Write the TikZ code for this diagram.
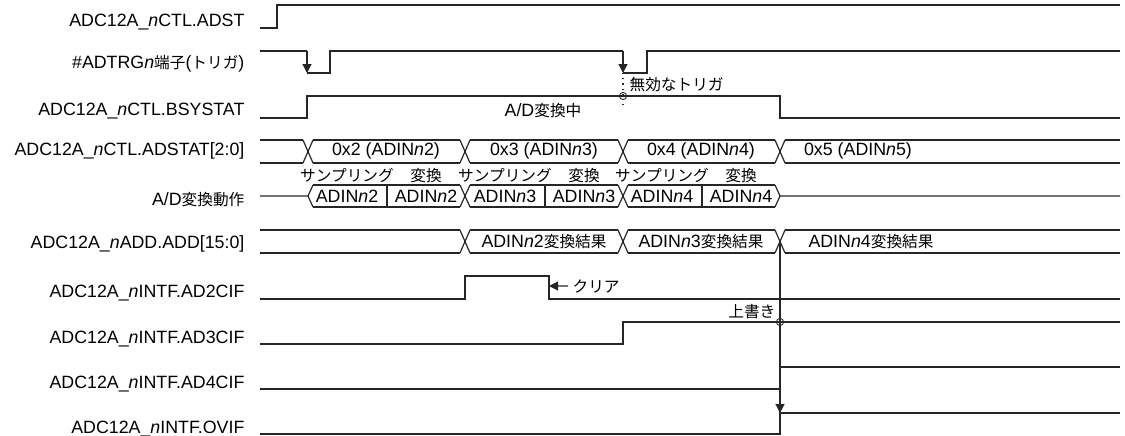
\documentclass[tikz,border=0pt]{standalone}
\usepackage{fontspec}
\setmainfont{Liberation Sans}
\newfontfamily\jp{Noto Sans CJK JP}[Scale=0.88]
\usetikzlibrary{arrows.meta}

\newcommand\nn{\textit{n}}

\begin{document}
\begin{tikzpicture}[line width=0.6pt, line join=miter, >={Triangle[length=4.5pt,width=4.5pt]}, x=0.5pt, y=-0.5pt,
  sig/.style={draw=black!85},
  lbl/.style={anchor=base east, inner sep=0pt, font=\fontsize{8.9}{10}\selectfont},
  val/.style={anchor=base, inner sep=0pt, font=\fontsize{8.9}{10}\selectfont}]
  \useasboundingbox (0,0) rectangle (1125,435);

  % signal names, one per row
  \node[lbl] (adst)   at (245,26)  {ADC12A\_\nn CTL.ADST};
  \node[lbl] (adtrg)  at (245,68)  {\#ADTRG\nn{\jp 端子}({\jp トリガ})};
  \node[lbl] (bsy)    at (245,115) {ADC12A\_\nn CTL.BSYSTAT};
  \node[lbl] (adstat) at (245,155) {ADC12A\_\nn CTL.ADSTAT[2:0]};
  \node[lbl] (adop)   at (245,205) {A/D{\jp 変換動作}};
  \node[lbl] (add)    at (245,248) {ADC12A\_\nn ADD.ADD[15:0]};
  \node[lbl] (ad2)    at (245,297) {ADC12A\_\nn INTF.AD2CIF};
  \node[lbl] (ad3)    at (245,343) {ADC12A\_\nn INTF.AD3CIF};
  \node[lbl] (ad4)    at (245,388) {ADC12A\_\nn INTF.AD4CIF};
  \node[lbl] (ovif)   at (245,433) {ADC12A\_\nn INTF.OVIF};

  % ADST and the trigger pin
  \draw[sig] (260,28) -- (277,28) -- (277,5) -- (1120,5);
  \draw[sig] (260,51) -- (307,51);
  \draw[sig,->] (307,51) -- (307,73);
  \draw[sig] (307,73) -- (330,73) -- (330,51) -- (623,51);
  \draw[sig,->] (623,51) -- (623,73);
  \draw[sig] (623,73) -- (647,73) -- (647,51) -- (1120,51);

  % BSYSTAT, with the ignored trigger
  \draw[sig] (260,118) -- (307,118) -- (307,96) -- (780,96) -- (780,118) -- (1120,118);
  \draw[sig,dotted] (623,73) -- (623,107);
  \draw[sig,line width=0.45pt] (623,96) circle[radius=1.8pt];
  \node[val,anchor=base west] (invalid) at (629,90) {\jp 無効なトリガ};
  \node[val] (busy) at (543,116) {A/D{\jp 変換中}};

  % ADSTAT bus
  \foreach \a/\b in {260/303,313/460,470/618,628/775,785/1120}
    \draw[sig] (\a,140) -- (\b,140) (\a,163) -- (\b,163);
  \foreach \xc in {308,465,623,780}
    \draw[sig] (\xc-5,140) -- (\xc+5,163) (\xc-5,163) -- (\xc+5,140);
  \foreach \xc/\k in {386/2,544/3,701/4,858/5}
    \node[val] (st\k) at (\xc,155) {0x\k{} (ADIN\nn\k)};

  % A/D conversion steps
  \draw[sig] (260,196) -- (308,196) (313,185) -- (308,196) -- (313,207);
  \foreach \a/\b in {313/460,470/618,628/775}
    \draw[sig] (\a,185) -- (\b,185) (\a,207) -- (\b,207);
  \foreach \xc in {465,623}
    \draw[sig] (\xc-5,185) -- (\xc+5,207) (\xc-5,207) -- (\xc+5,185);
  \draw[sig] (775,185) -- (780,196) -- (775,207) (780,196) -- (1120,196);
  \foreach \xc in {387,545,702}
    \draw[sig] (\xc,185) -- (\xc,207);
  \foreach \xs/\xv/\k in {347/426/2,505/584/3,662/741/4} {
    \node[val] (samp\k) at (\xs,181) {\jp サンプリング};
    \node[val] (conv\k) at (\xv,181) {\jp 変換};
    \node[val] (cs\k) at (\xs,202) {ADIN\nn\k};
    \node[val] (cv\k) at (\xv,202) {ADIN\nn\k};
  }

  % result register bus
  \foreach \a/\b in {260/460,470/618,628/775,785/1120}
    \draw[sig] (\a,230) -- (\b,230) (\a,253) -- (\b,253);
  \foreach \xc in {465,623,780}
    \draw[sig] (\xc-5,230) -- (\xc+5,253) (\xc-5,253) -- (\xc+5,230);
  \foreach \xc/\k in {544/2,701/3,871/4}
    \node[val] (res\k) at (\xc,247) {ADIN\nn\k{\jp 変換結果}};

  % interrupt flags
  \draw[sig] (260,299) -- (465,299) -- (465,276) -- (549,276) -- (549,299) -- (1120,299);
  \draw[sig] (260,344) -- (623,344) -- (623,322) -- (1120,322);
  \draw[sig] (260,389) -- (780,389) -- (780,367) -- (1120,367);
  \draw[sig] (260,434) -- (780,434) -- (780,413) -- (1120,413);

  \node[val,anchor=base west] (clr) at (572,292) {\jp クリア};
  \coordinate (clrpt) at (549,286);
  \draw[sig,->] ([xshift=-2pt]clr.west) -- (clrpt);

  \coordinate (ovtop) at (780,241.5);
  \coordinate (ovbot) at (780,413);
  \draw[sig,->] (ovtop) -- (ovbot);
  \draw[sig,line width=0.45pt] (780,322) circle[radius=1.8pt];
  \node[val,anchor=base east] (overw) at (776,317) {\jp 上書き};
\end{tikzpicture}
\end{document}
